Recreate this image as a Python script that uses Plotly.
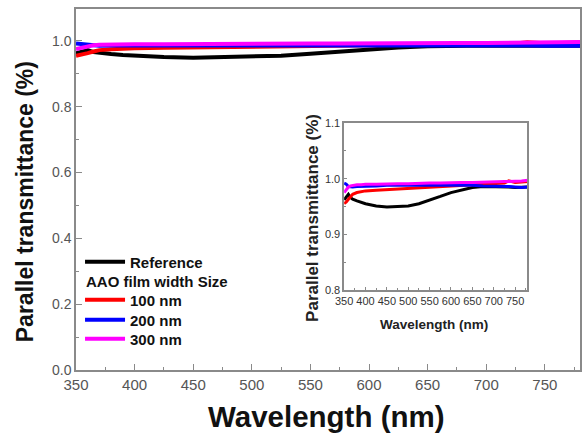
import plotly.graph_objects as go

wavelength = [350, 355, 360, 365, 370, 380, 390, 400, 425, 450, 475, 500, 525,
              550, 575, 600, 625, 650, 675, 700, 725, 735, 750, 765, 780]
reference = [0.962, 0.968, 0.972, 0.966, 0.963, 0.960, 0.957, 0.955, 0.951, 0.949,
             0.950, 0.951, 0.955, 0.961, 0.968, 0.975, 0.980, 0.984, 0.986, 0.986,
             0.985, 0.985, 0.984, 0.985, 0.985]
nm100 = [0.955, 0.958, 0.963, 0.968, 0.972, 0.975, 0.977, 0.978, 0.979, 0.980,
         0.981, 0.982, 0.983, 0.984, 0.985, 0.986, 0.987, 0.988, 0.989, 0.990,
         0.992, 0.996, 0.993, 0.994, 0.995]
nm200 = [0.992, 0.990, 0.986, 0.985, 0.985, 0.986, 0.986, 0.987, 0.987, 0.988,
         0.988, 0.988, 0.988, 0.988, 0.988, 0.989, 0.989, 0.988, 0.987, 0.987,
         0.986, 0.986, 0.985, 0.984, 0.985]
nm300 = [0.975, 0.980, 0.985, 0.987, 0.988, 0.989, 0.989, 0.990, 0.990, 0.991,
         0.991, 0.991, 0.992, 0.992, 0.992, 0.993, 0.993, 0.993, 0.994, 0.994,
         0.995, 0.995, 0.995, 0.996, 0.997]

series_names = ["Reference", "100 nm", "200 nm", "300 nm"]
series_values = [reference, nm100, nm200, nm300]
series_colors = ["#000000", "#ff0000", "#0000ff", "#ff00ff"]
legend_header = "AAO film width Size"

FONT = "Liberation Sans, Arial, sans-serif"
FRAME = "#8a8a8a"

legend_ids = ["legend", "legend2", "legend3", "legend4"]
legend_rows = [0.299, 0.194, 0.1385, 0.0859]

fig = go.Figure()
for name, vals, col, lg in zip(series_names, series_values, series_colors, legend_ids):
    fig.add_trace(go.Scatter(
        x=wavelength, y=vals, name=name, mode="lines",
        line=dict(color=col, width=4), legend=lg,
        xaxis="x", yaxis="y"))
for name, vals, col in zip(series_names, series_values, series_colors):
    fig.add_trace(go.Scatter(
        x=wavelength, y=vals, name=name, mode="lines",
        line=dict(color=col, width=3), showlegend=False,
        xaxis="x2", yaxis="y2"))

legend_style = dict(x=0.008, xanchor="left", yanchor="middle",
                    bgcolor="rgba(0,0,0,0)", itemwidth=40,
                    font=dict(family=FONT, size=15, color="#111111", weight="bold"))
legends = {lg: dict(legend_style, y=yy) for lg, yy in zip(legend_ids, legend_rows)}

fig.update_layout(
    width=584, height=435,
    margin=dict(l=76, r=2, t=9, b=65),
    paper_bgcolor="white", plot_bgcolor="white",
    font=dict(family=FONT, color="#555555"),
    showlegend=True,
    **legends,
    xaxis=dict(range=[350, 780], domain=[0, 1], showgrid=False, zeroline=False,
               showline=True, linecolor=FRAME, linewidth=1.5, mirror=True,
               ticks="inside", ticklen=6, tickcolor=FRAME, dtick=50, tick0=350,
               tickfont=dict(size=15, color="#555555"),
               minor=dict(ticks="inside", ticklen=3, dtick=25, tickcolor=FRAME)),
    yaxis=dict(range=[0, 1.097], domain=[0, 1], showgrid=False, zeroline=False,
               showline=True, linecolor=FRAME, linewidth=1.5, mirror=True,
               ticks="inside", ticklen=6, tickcolor=FRAME, dtick=0.2, tick0=0,
               tickformat=".1f", tickfont=dict(size=14, color="#555555"),
               minor=dict(ticks="inside", ticklen=3, dtick=0.1, tickcolor=FRAME)),
    xaxis2=dict(range=[350, 778], domain=[0.532, 0.895], anchor="y2",
                showgrid=False, zeroline=False,
                showline=True, linecolor=FRAME, linewidth=1.5, mirror=True,
                ticks="inside", ticklen=3, tickcolor=FRAME, dtick=50, tick0=350,
                tickfont=dict(family=FONT, size=11, color="#333333"),
                minor=dict(ticks="inside", ticklen=2, dtick=25, tickcolor=FRAME)),
    yaxis2=dict(range=[0.8, 1.1], domain=[0.222, 0.684], anchor="x2",
                showgrid=False, zeroline=False,
                showline=True, linecolor=FRAME, linewidth=1.5, mirror=True,
                ticks="inside", ticklen=3, tickcolor=FRAME, dtick=0.1, tick0=0.8,
                tickformat=".1f",
                tickfont=dict(family=FONT, size=11, color="#333333"),
                minor=dict(ticks="inside", ticklen=2, dtick=0.05, tickcolor=FRAME)),
)

annotations = [
    dict(text="Wavelength (nm)", x=0.498, y=-0.130, xref="paper", yref="paper",
         showarrow=False, xanchor="center", yanchor="middle",
         font=dict(family=FONT, size=29.5, color="#111111", weight="bold")),
    dict(text="Parallel transmittance (%)", x=-0.101, y=0.465, xref="paper", yref="paper",
         showarrow=False, xanchor="center", yanchor="middle", textangle=-90,
         font=dict(family=FONT, size=23, color="#111111", weight="bold")),
    dict(text="Wavelength (nm)", x=0.711, y=0.125, xref="paper", yref="paper",
         showarrow=False, xanchor="center", yanchor="middle",
         font=dict(family=FONT, size=13.5, color="#222222", weight="bold")),
    dict(text="Parallel transmittance (%)", x=0.468, y=0.421, xref="paper", yref="paper",
         showarrow=False, xanchor="center", yanchor="middle", textangle=-90,
         font=dict(family=FONT, size=17, color="#222222", weight="bold")),
    dict(text=legend_header, x=0.016, y=0.2465, xref="paper", yref="paper",
         showarrow=False, xanchor="left", yanchor="middle",
         font=dict(family=FONT, size=15, color="#111111", weight="bold")),
]
fig.update_layout(annotations=annotations)

fig.write_html(
    "out.html",
    config={"displayModeBar": False},
    post_script="document.body.style.margin='0';document.body.style.overflow='hidden';",
)
